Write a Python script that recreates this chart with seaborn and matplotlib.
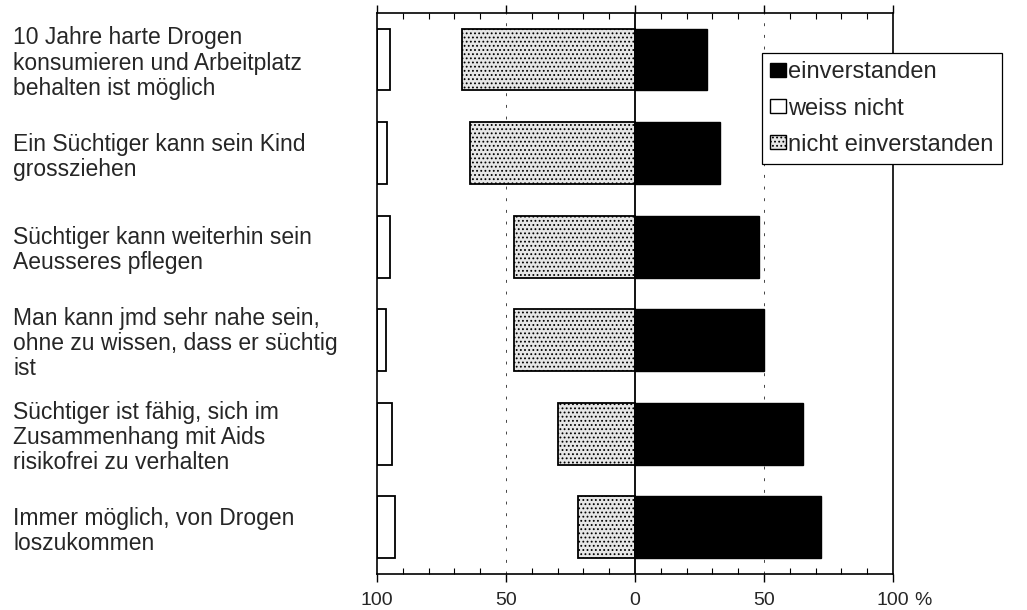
import numpy as np
import pandas as pd
import matplotlib
matplotlib.use("Agg")
import matplotlib.pyplot as plt
from matplotlib.patches import Patch
from matplotlib.ticker import MultipleLocator, FixedLocator
import seaborn as sns

# Statements, top to bottom
statements = [
    "10 Jahre harte Drogen\nkonsumieren und Arbeitplatz\nbehalten ist möglich",
    "Ein Süchtiger kann sein Kind\ngrossziehen",
    "Süchtiger kann weiterhin sein\nAeusseres pflegen",
    "Man kann jmd sehr nahe sein,\nohne zu wissen, dass er süchtig\nist",
    "Süchtiger ist fähig, sich im\nZusammenhang mit Aids\nrisikofrei zu verhalten",
    "Immer möglich, von Drogen\nloszukommen",
]
# Percentages
einverstanden = [28, 33, 48, 50, 65, 72]
weiss_nicht = [5, 4, 5, 3.5, 6, 7]
nicht_einverstanden = [67, 64, 47, 47, 30, 22]

tick_values = [-100, -50, 0, 50, 100]
tick_labels = ["100", "50", "0", "50", "100"]

sns.set_theme(style="white")
plt.rcParams["font.family"] = ["Liberation Sans", "DejaVu Sans"]
plt.rcParams["hatch.color"] = "#6a6a6a"
plt.rcParams["hatch.linewidth"] = 0.8

df = pd.DataFrame({
    "statement": statements,
    "ein": einverstanden,
    "weiss": weiss_nicht,
    "nicht": [-v for v in nicht_einverstanden],
})

fig = plt.figure(figsize=(10.27, 6.10), dpi=100)
ax = fig.add_axes([0.367, 0.059, 0.5025, 0.920])

bar_h = 0.66
# disagree to the left of zero (stippled), agree to the right (black)
sns.barplot(data=df, y="statement", x="nicht", order=statements, ax=ax,
            color="#e6e6e6", edgecolor="black", linewidth=1.3,
            width=bar_h, hatch="....", saturation=1)
sns.barplot(data=df, y="statement", x="ein", order=statements, ax=ax,
            color="black", edgecolor="black", linewidth=1.0,
            width=bar_h, saturation=1)
# "don't know" sits against the left edge of the frame
ax.barh(np.arange(len(statements)), df["weiss"], left=-100, height=bar_h,
        color="white", edgecolor="black", linewidth=1.3)

ax.set_xlim(-100, 100)
ax.set_ylim(len(statements) - 0.5, -0.5)
ax.axvline(0, color="black", lw=1.3, zorder=5)
for v in (-50, 50):
    ax.axvline(v, color="#444444", lw=0.7, ls=(0, (3, 9)), zorder=0)

ax.set_xlabel("")
ax.set_ylabel("")

# ticks: majors outward on top and bottom, minors inward
ax.xaxis.set_major_locator(FixedLocator(tick_values))
ax.set_xticklabels(tick_labels, fontsize=14)
ax.xaxis.set_minor_locator(MultipleLocator(10))
ax.tick_params(axis="x", which="major", direction="out", length=6, width=1,
               top=True, bottom=True, color="black", pad=7)
ax.tick_params(axis="x", which="minor", direction="in", length=4, width=0.8,
               top=True, bottom=True, color="black")
ax.annotate("%", xy=(1, 0), xycoords="axes fraction", xytext=(15, -13),
            textcoords="offset points", ha="left", va="top", fontsize=14)

# statements as left-aligned tick labels in the left margin
ax.tick_params(axis="y", which="both", length=0, pad=262)
ax.set_yticks(np.arange(len(statements)))
ax.set_yticklabels(statements, fontsize=16.5, linespacing=1.12)
for lab in ax.get_yticklabels():
    lab.set_horizontalalignment("left")

for s in ax.spines.values():
    s.set_visible(True)
    s.set_color("black")
    s.set_linewidth(1.2)

handles = [
    Patch(facecolor="black", edgecolor="black", label="einverstanden"),
    Patch(facecolor="white", edgecolor="black", label="weiss nicht"),
    Patch(facecolor="#e6e6e6", edgecolor="black", hatch="....",
          label="nicht einverstanden"),
]
leg = fig.legend(handles=handles, loc="upper left",
                 bbox_to_anchor=(0.742, 0.913), fontsize=17,
                 handlelength=0.65, handleheight=0.55, handletextpad=0.1,
                 labelspacing=0.6, borderpad=0.35, borderaxespad=0,
                 fancybox=False, framealpha=1, edgecolor="black")
leg.get_frame().set_linewidth(0.9)

fig.savefig("out.png", dpi=100)
